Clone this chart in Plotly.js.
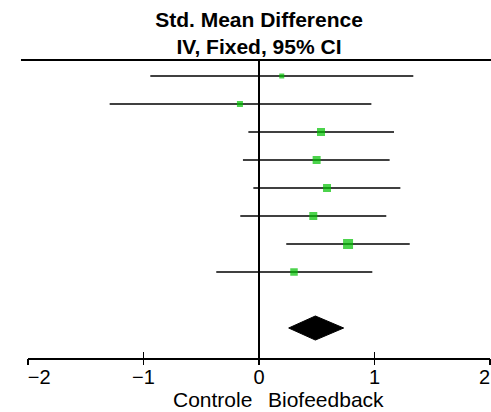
<!DOCTYPE html>
<html>
<head>
<meta charset="utf-8">
<script src="https://cdn.plot.ly/plotly-3.0.1.min.js"></script>
<style>html,body{margin:0;padding:0;background:#fff;}#chart{width:491px;height:412px;}</style>
</head>
<body>
<div id="chart"></div>
<script>
// Study rows (top to bottom)
var rows = [1, 2, 3, 4, 5, 6, 7, 8];
var est = [0.197, -0.165, 0.537, 0.499, 0.589, 0.470, 0.771, 0.303];
var lower = [-0.941, -1.293, -0.092, -0.139, -0.049, -0.162, 0.236, -0.370];
var upper = [1.336, 0.973, 1.169, 1.131, 1.224, 1.102, 1.305, 0.981];
var weightSize = [5, 6, 8, 8, 8, 8, 10, 7.5];

// Pooled estimate
var pooledRow = 10;
var pooledEst = 0.488;
var pooledLower = 0.257;
var pooledUpper = 0.733;

// Axis ticks
var tickVals = [-2, -1, 0, 1, 2];
var tickLabels = ["\u00a0\u00a0\u00a0\u00a0\u22122", "\u22121", "0", "1", "2\u00a0\u00a0"];

var titleText = "Std. Mean Difference<br>IV, Fixed, 95% CI";
var leftLabel = "Controle";
var rightLabel = "Biofeedback";

var FONT = "Liberation Sans, Arial, sans-serif";
var green = "rgb(0,192,0)";
var dh = 0.43; // diamond half-height in row units

var studies = {
  type: "scatter", mode: "markers",
  x: est, y: rows,
  marker: {symbol: "square", size: weightSize, color: green, line: {width: 0}},
  error_x: {
    type: "data", symmetric: false,
    array: upper.map(function(u, i){ return u - est[i]; }),
    arrayminus: lower.map(function(l, i){ return est[i] - l; }),
    color: "black", thickness: 1.6, width: 0
  },
  hoverinfo: "x", showlegend: false
};

var diamond = {
  type: "scatter", mode: "lines",
  x: [pooledLower, pooledEst, pooledUpper, pooledEst, pooledLower],
  y: [pooledRow, pooledRow - dh, pooledRow, pooledRow + dh, pooledRow],
  fill: "toself", fillcolor: "black",
  line: {color: "black", width: 1},
  xaxis: "x2", yaxis: "y",
  hoverinfo: "skip", showlegend: false
};

var layout = {
  width: 491, height: 412,
  margin: {l: 28, r: 1, t: 60, b: 54, pad: 0},
  paper_bgcolor: "white", plot_bgcolor: "white",
  showlegend: false,
  title: {
    text: titleText,
    font: {family: FONT, size: 21, color: "black", weight: "bold"},
    x: 0.5, xref: "paper", xanchor: "center",
    y: 0.935, yref: "container", yanchor: "top"
  },
  xaxis: {
    range: [-2, 2], fixedrange: true,
    tickvals: tickVals, ticktext: tickLabels,
    ticks: "inside", ticklen: 6, tickwidth: 1.5, tickcolor: "black",
    showline: true, linecolor: "black", linewidth: 2,
    showgrid: false,
    zeroline: true, zerolinecolor: "black", zerolinewidth: 2,
    tickfont: {family: FONT, size: 20, color: "black"},
    ticklabeloverflow: "allow",
    ticklabelstandoff: 0
  },
  xaxis2: {
    range: [-2, 2], overlaying: "x", anchor: "y", side: "bottom",
    tickvals: tickVals,
    ticks: "outside", ticklen: 6, tickwidth: 1.5, tickcolor: "black",
    showticklabels: false, showline: false, showgrid: false, zeroline: false
  },
  yaxis: {
    range: [11.071, 0.4286], visible: false, fixedrange: true,
    showgrid: false, zeroline: false
  },
  shapes: [{
    type: "line", xref: "paper", yref: "paper",
    x0: -0.0152, x1: 1.005, y0: 1, y1: 1,
    line: {color: "black", width: 2}
  }],
  annotations: [
    {text: leftLabel, x: 0, xref: "x", y: 0, yref: "paper",
     xanchor: "right", yanchor: "top", xshift: -5, yshift: -28, showarrow: false,
     font: {family: FONT, size: 21, color: "black"}},
    {text: rightLabel, x: 0, xref: "x", y: 0, yref: "paper",
     xanchor: "left", yanchor: "top", xshift: 7, yshift: -28, showarrow: false,
     font: {family: FONT, size: 21, color: "black"}}
  ]
};

Plotly.newPlot("chart", [studies, diamond], layout, {staticPlot: true, displayModeBar: false});
</script>
</body>
</html>
